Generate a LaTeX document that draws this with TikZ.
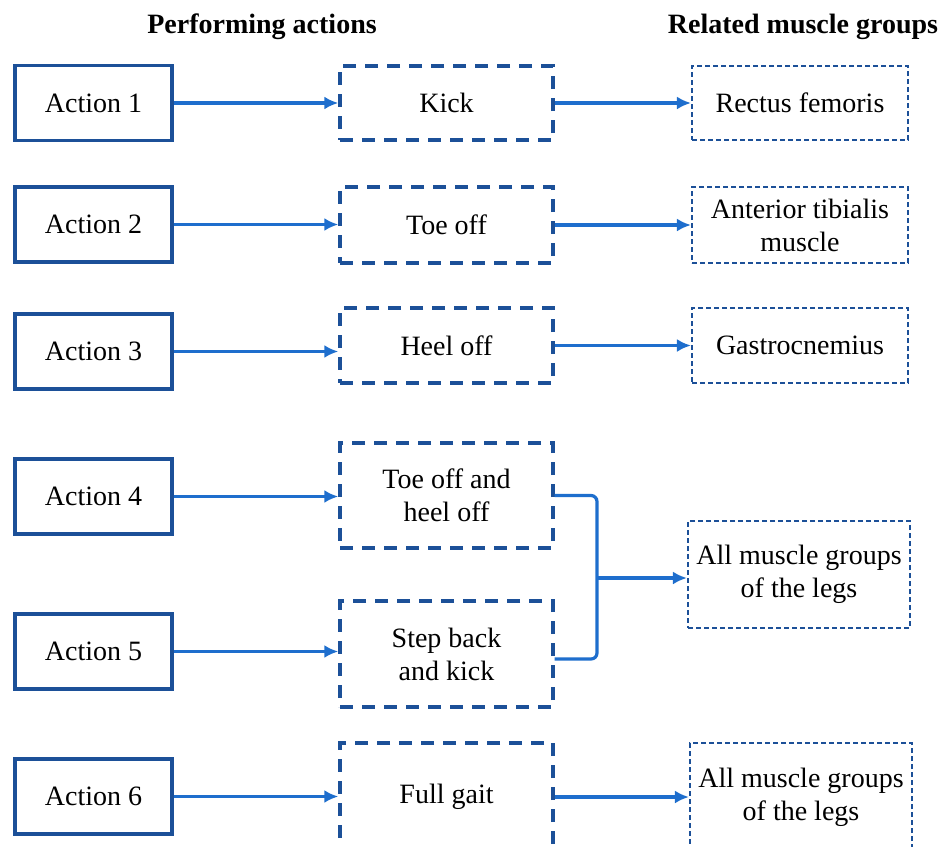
\documentclass[tikz,border=0pt]{standalone}
\usepackage{fontspec}
\setmainfont{Liberation Serif}
\usepackage{tikz}
\usetikzlibrary{arrows.meta, positioning}

\definecolor{boxblue}{RGB}{28,80,152}
\definecolor{arrowblue}{RGB}{30,110,205}

\begin{document}
\begin{tikzpicture}[x=1pt, y=-1pt,
        font=\fontsize{28pt}{33pt}\selectfont,
        actbox/.style={draw=boxblue, line width=3.2pt, inner sep=0pt,
            minimum width=157pt, minimum height=75pt},
        movebox/.style={draw=boxblue, line width=3.4pt, dash pattern=on 13pt off 9pt,
            inner sep=0pt, minimum width=213pt, align=center},
        musclebox/.style={draw=boxblue, line width=2.1pt, dash pattern=on 5pt off 3pt,
            inner sep=0pt, minimum width=216pt, align=center},
        heading/.style={font=\fontsize{28pt}{33pt}\selectfont\bfseries},
        conn/.style={draw=arrowblue, line width=3.2pt},
        arr/.style={conn, -{Latex[length=14pt,width=13pt]}}]
    \useasboundingbox (0,0) rectangle (942,846);
    \clip (0,0) rectangle (942,846);

    \node (perf) at (262,27) [heading] {Performing actions};
    \node (rel) at (803,27) [heading] {Related muscle groups};

    % actions
    \node (a1) at (93.5,103) [actbox] {Action 1};
    \node (a2) at (93.5,224.5) [actbox] {Action 2};
    \node (a3) at (93.5,351.5) [actbox] {Action 3};
    \node (a4) at (93.5,496.5) [actbox] {Action 4};
    \node (a5) at (93.5,651.5) [actbox] {Action 5};
    \node (a6) at (93.5,796.5) [actbox] {Action 6};

    % movements
    \node (m1) at (446.5,103) [movebox, minimum height=74pt] {Kick};
    \node (m2) at (446.5,225) [movebox, minimum height=76pt] {Toe off};
    \node (m3) at (446.5,345.5) [movebox, minimum height=75pt] {Heel off};
    \node (m4) at (446.5,495.5) [movebox, minimum height=105pt] {Toe off and\\heel off};
    \node (m5) at (446.5,654) [movebox, minimum height=106pt] {Step back\\and kick};
    \node (m6) at (446.5,797) [movebox, minimum height=108pt] {Full gait};

    % muscle groups
    \node (r1) at (800,103) [musclebox, minimum height=74pt] {Rectus femoris};
    \node (r2) at (800,225) [musclebox, minimum height=76pt] {Anterior tibialis\\muscle};
    \node (r3) at (800,345.5) [musclebox, minimum height=75pt] {Gastrocnemius};
    \node (r4) at (799,574.5) [musclebox, minimum width=222pt, minimum height=107pt] {All muscle groups\\of the legs};
    \node (r6) at (801,797) [musclebox, minimum width=222pt, minimum height=108pt] {All muscle groups\\of the legs};

    \foreach \i in {1,...,6}
        \draw[arr] (a\i.east) -- (a\i.east -| m\i.west);
    \foreach \i in {1,2,3,6}
        \draw[arr] (m\i.east) -- (m\i.east -| r\i.west);

    % bracket joining actions 4 and 5
    \coordinate (jn) at (597,578);
    \draw[conn, rounded corners=6pt] (m4.east) -- (m4.east -| jn) -- ([yshift=-5pt]m5.east -| jn) -- ([yshift=-5pt]m5.east);
    \draw[arr] (jn) -- (jn -| r4.west);
\end{tikzpicture}
\end{document}
